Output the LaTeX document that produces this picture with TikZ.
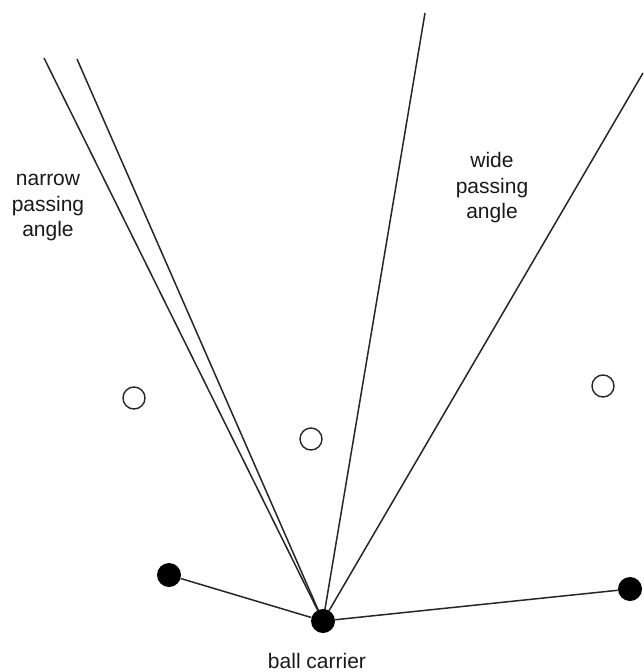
\documentclass[tikz,border=0pt]{standalone}
\usepackage{fontspec}
\setmainfont{Liberation Sans}
\begin{document}
\begin{tikzpicture}[x=1pt,y=-1pt,
  line/.style={line width=1.5pt,black!85},
  player/.style={circle,fill=black,minimum size=24pt,inner sep=0pt},
  defender/.style={circle,draw=black!85,line width=1.4pt,fill=white,minimum size=22pt,inner sep=0pt},
  lbl/.style={font=\fontsize{21}{25.5}\selectfont,align=center,text=black!90,inner sep=0pt}]
\useasboundingbox (0,0) rectangle (643,672);
% free ends
\coordinate (t1) at (44,58);
\coordinate (t2) at (77,59);
\coordinate (t3) at (425,13);
\coordinate (t4) at (643,73);
% defenders
\node[defender] (d1) at (134,398) {};
\node[defender] (d2) at (311,439) {};
\node[defender] (d3) at (603,386) {};
% lines
\coordinate (bcc) at (323,621);
\draw[line] (bcc) -- (t1);
\draw[line] (bcc) -- (t2);
\draw[line] (bcc) -- (t3);
\draw[line] (bcc) -- (t4);
% players
\node[player] (lp) at (169,575) {};
\node[player] (rp) at (630,589) {};
\node[player] (bc) at (bcc) {};
\draw[line] (lp) -- (bc);
\draw[line] (bc) -- (rp);
% labels
\node[lbl] (nl) at (48,208) {narrow\\passing\\angle};
\node[lbl] (wl) at (492,188) {wide\\passing\\angle};
\node[lbl] (bl) at (317,661) {ball carrier};
\end{tikzpicture}
\end{document}
